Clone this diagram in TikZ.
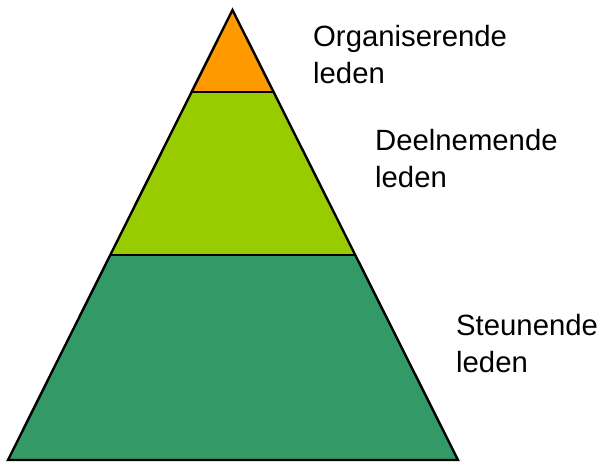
\documentclass[tikz,border=0pt]{standalone}
\usepackage{fontspec}
\setmainfont{Liberation Sans}
\usetikzlibrary{calc}
\definecolor{topor}{HTML}{FF9900}
\definecolor{midgr}{HTML}{99CC00}
\definecolor{botgr}{HTML}{339966}
\begin{document}
\begin{tikzpicture}[x=1pt,y=-1pt,
  band/.style={line width=2.4pt,line join=miter},
  lbl/.style={anchor=base west,align=left,inner sep=0pt,font=\fontsize{29.3}{37}\selectfont}]
\useasboundingbox (0,0) rectangle (603,462);
\coordinate (apex) at (232.5,10);
\coordinate (bl) at (8,460);
\coordinate (br) at (458,460);
\coordinate (l1) at ($(apex)!0.1822!(bl)$);
\coordinate (r1) at ($(apex)!0.1822!(br)$);
\coordinate (l2) at ($(apex)!0.5444!(bl)$);
\coordinate (r2) at ($(apex)!0.5444!(br)$);
\fill[botgr] (l2) -- (r2) -- (br) -- (bl) -- cycle;
\fill[midgr] (l1) -- (r1) -- (r2) -- (l2) -- cycle;
\fill[topor] (apex) -- (r1) -- (l1) -- cycle;
\draw[band] (l1) -- (r1);
\draw[band] (l2) -- (r2);
\draw[band] (apex) -- (br) -- (bl) -- cycle;
\node[lbl] (org) at (313,84) {Organiserende\\leden};
\node[lbl] (deel) at (375,188) {Deelnemende\\leden};
\node[lbl] (steun) at (456,373) {Steunende\\leden};
\end{tikzpicture}
\end{document}
